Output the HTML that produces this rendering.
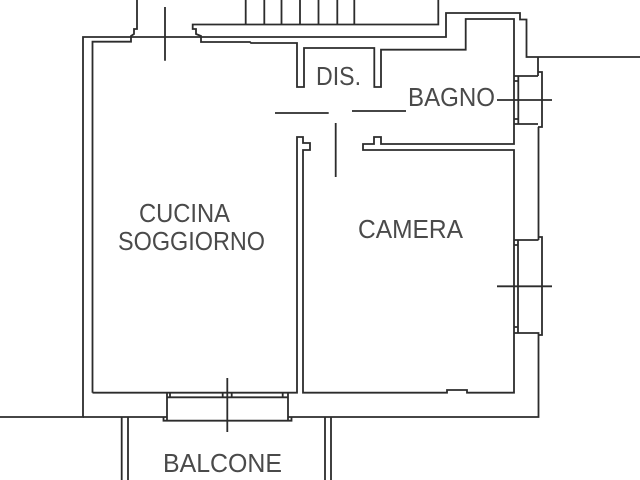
<!DOCTYPE html>
<html><head><meta charset="utf-8"><style>
html,body{margin:0;padding:0;background:#fff;width:640px;height:480px;overflow:hidden}
svg{display:block}
text{font-family:"Liberation Sans",sans-serif;font-size:25.5px;fill:#4a4a4a;font-weight:normal}
.w{filter:blur(.3px)}
</style></head><body>
<svg width="640" height="480" viewBox="0 0 640 480" xmlns="http://www.w3.org/2000/svg">
<g class="w" fill="none" stroke="#2c2c2c" stroke-width="1.8">
<!-- outer -->
<path d="M137 0V29H134V34L131 36V37H83V417H0"/>
<path d="M131 37H446V13H520V19.5H526.5V57H640"/>
<path d="M83 417H167M288 417H538.5V333H514M538.5 240V127"/>
<path d="M538 57V76M514 76H538"/>
<!-- inner cucina -->
<path d="M92.5 392.7V41.7H131V36"/>
<path d="M92.5 392.7H297V137H303V143H310V150H303V392.7H447V390H467V392.7H514V150H363V144H374V137H381V144H514V19H465.7V49.7H381V87H374.3V48H304V87H297V43H251L250 42H201V36L196 34V29H192.7V24.5H438.3V0"/>
<!-- stairs -->
<path d="M245.7 0V24.5M264.3 0V24.5M281.5 0V24.5M300 0V24.5M318.5 0V24.5M337.3 0V24.5M354.3 0V24.5"/>
<!-- door marks -->
<path d="M165 7V60.7M275 113H328.7M352 111H406M335.7 123V177"/>
<!-- bagno window -->
<path d="M538 72H542V127H538M514 124H538M518.3 76V124M514 81H518.3M514 119H518.3M497 100H552"/>
<!-- camera window -->
<path d="M514 240H538.5M538.5 237H542V335H538.5M518 240V333M514 245H518M514 327H518M497 286.3H552"/>
<!-- south window -->
<path d="M167 397.3H288M167 392.7V420.7M288 392.7V420.7M163.5 417V420.7H291.5V417M170 392.7V397.3M222.7 392.7V397.3M231.7 392.7V397.3M282.7 392.7V397.3M227.3 378V432"/>
<!-- balcony -->
<path d="M121.7 417V480M128 417V480M325 417V480M331 417V480"/>
</g>
<text x="316" y="85" textLength="45" lengthAdjust="spacingAndGlyphs">DIS.</text>
<text x="408" y="106" textLength="87" lengthAdjust="spacingAndGlyphs">BAGNO</text>
<text x="139" y="222" textLength="91" lengthAdjust="spacingAndGlyphs">CUCINA</text>
<text x="118" y="250" textLength="147" lengthAdjust="spacingAndGlyphs">SOGGIORNO</text>
<text x="358" y="238" textLength="105" lengthAdjust="spacingAndGlyphs">CAMERA</text>
<text x="163" y="472" textLength="119" lengthAdjust="spacingAndGlyphs">BALCONE</text>
</svg>
</body></html>
